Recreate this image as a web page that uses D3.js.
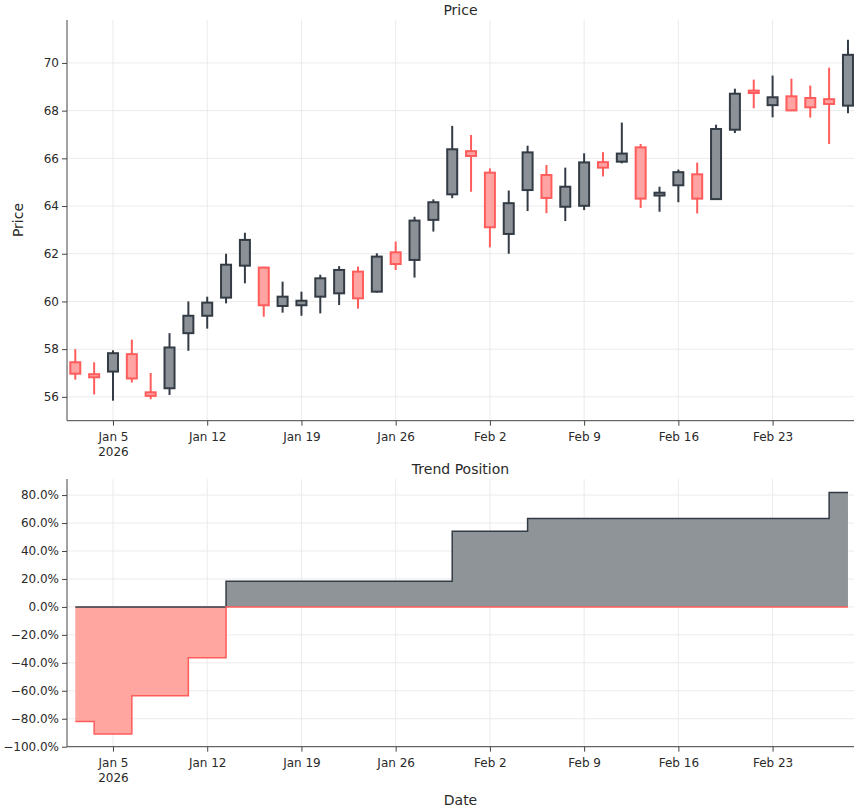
<!DOCTYPE html>
<html>
<head>
<meta charset="utf-8">
<script src="https://cdn.jsdelivr.net/npm/d3@7"></script>
<style>
  body { margin: 0; background: #fff; }
  svg { display: block; font-family: "DejaVu Sans", Verdana, sans-serif; }
  .tick text { fill: #2a2a2a; }
  .tick line { stroke: #444; }
  .domain { stroke: #444; }
</style>
</head>
<body>
<svg id="chart" width="854" height="809"></svg>
<script>
// trading days, Jan 1 - Feb 27 2026 (weekends removed)
const dates = ["2026-01-01","2026-01-02","2026-01-05","2026-01-06","2026-01-07","2026-01-08","2026-01-09",
  "2026-01-12","2026-01-13","2026-01-14","2026-01-15","2026-01-16","2026-01-19","2026-01-20","2026-01-21",
  "2026-01-22","2026-01-23","2026-01-26","2026-01-27","2026-01-28","2026-01-29","2026-01-30","2026-02-02",
  "2026-02-03","2026-02-04","2026-02-05","2026-02-06","2026-02-09","2026-02-10","2026-02-11","2026-02-12",
  "2026-02-13","2026-02-16","2026-02-17","2026-02-18","2026-02-19","2026-02-20","2026-02-23","2026-02-24",
  "2026-02-25","2026-02-26","2026-02-27"];
const open  = [57.45,56.95,57.06,57.79,56.19,56.36,58.67,59.40,60.16,61.50,61.42,59.81,59.84,60.20,60.34,
  61.25,60.41,62.06,61.74,63.42,64.49,66.30,65.40,62.83,64.67,65.30,63.97,64.01,65.84,65.86,66.46,
  64.44,64.87,65.33,64.29,67.20,68.84,68.23,68.60,68.53,68.48,68.21];
const high  = [58.00,57.45,57.95,58.40,57.00,58.67,60.00,60.20,62.00,62.88,61.45,60.83,60.41,61.12,61.48,
  61.46,62.02,62.51,63.55,64.28,67.36,66.98,65.58,64.65,66.53,65.72,65.61,66.21,66.26,67.50,66.60,
  64.81,65.53,65.82,67.41,68.92,69.30,69.47,69.34,69.05,69.80,70.97];
const low   = [56.72,56.10,55.84,56.60,55.90,56.08,57.93,58.86,59.92,60.76,59.36,59.53,59.40,59.50,59.85,
  59.70,60.37,61.32,61.00,62.93,64.33,64.60,62.27,62.00,63.79,63.70,63.37,63.83,65.24,65.79,63.92,
  63.76,64.16,63.69,64.27,67.06,68.10,67.72,67.98,67.71,66.60,67.89];
const close = [56.97,56.82,57.83,56.77,56.04,58.07,59.40,59.95,61.54,62.58,59.84,60.20,60.03,60.97,61.32,
  60.13,61.88,61.57,63.39,64.16,66.38,66.10,63.11,64.12,66.25,64.34,64.81,65.83,65.61,66.20,64.31,
  64.56,65.42,64.31,67.23,68.71,68.74,68.56,68.01,68.14,68.28,70.34];
const position = [-0.82,-0.91,-0.91,-0.635,-0.635,-0.635,-0.363,-0.363,0.184,0.184,0.184,0.184,0.184,0.184,
  0.184,0.184,0.184,0.184,0.184,0.184,0.542,0.542,0.542,0.542,0.633,0.633,0.633,0.633,0.633,0.633,
  0.633,0.633,0.633,0.633,0.633,0.633,0.633,0.633,0.633,0.633,0.819,0.819];
const priceTicks = [56, 58, 60, 62, 64, 66, 68, 70];
const posTicks = [-1, -0.8, -0.6, -0.4, -0.2, 0, 0.2, 0.4, 0.6, 0.8];

const upLine = "#333b44", upFill = "#8c9197";
const downLine = "#ff5c5c", downFill = "#ffa3a3";
const textColor = "#2a2a2a";
const font = "DejaVu Sans, Verdana, sans-serif";

const parse = d3.timeParse("%Y-%m-%d");
const days = dates.map(parse);
const candles = days.map((d, i) => ({i: i, date: d, o: open[i], h: high[i], l: low[i], c: close[i]}));

const svg = d3.select("#chart");
const left = 67, right = 854;

// x is the trading-day index, so weekends take no space
const x = d3.scaleLinear().domain([-0.44, dates.length - 0.68]).range([left, right]);
const mondays = days.map((d, i) => d.getDay() == 1 ? i : -1).filter(i => i >= 0);
const fmt = d3.timeFormat("%b %-d");

const yP = d3.scaleLinear().domain([55.0, 71.8]).range([420.7, 20]);
const yT = d3.scaleLinear().domain([-1.0, 0.915]).range([746.7, 479]);

function grid(y, ticks, top, bottom) {
  const g = svg.append("g").attr("stroke", "#ebebeb").attr("stroke-width", 1);
  g.selectAll(".v").data(mondays).enter().append("line")
    .attr("x1", d => x(d)).attr("x2", d => x(d))
    .attr("y1", top).attr("y2", bottom);
  g.selectAll(".h").data(ticks).enter().append("line")
    .attr("x1", left).attr("x2", right)
    .attr("y1", d => y(d)).attr("y2", d => y(d));
}

function styleAxis(g) {
  g.attr("font-family", font).attr("font-size", 12);
  return g;
}

function xAxis(yPos) {
  const g = svg.append("g")
    .attr("transform", "translate(0," + yPos + ")")
    .call(d3.axisBottom(x).tickValues(mondays).tickSize(5).tickSizeOuter(0).tickFormat(i => fmt(days[i])));
  styleAxis(g);
  g.selectAll(".tick text").attr("dy", "1.05em")
    .filter((d, k) => k == 0)
    .append("tspan").attr("x", 0).attr("dy", "1.25em").text(d => days[d].getFullYear());
  return g;
}

// ---- price panel ----
grid(yP, priceTicks, 20, 420.7);

const bw = 10;
const cg = svg.append("g");
cg.selectAll(".wick").data(candles).enter().append("line")
  .attr("x1", d => x(d.i)).attr("x2", d => x(d.i))
  .attr("y1", d => yP(d.h)).attr("y2", d => yP(d.l))
  .attr("stroke", d => d.c >= d.o ? upLine : downLine)
  .attr("stroke-width", 2);
cg.selectAll(".body").data(candles).enter().append("rect")
  .attr("x", d => x(d.i) - bw / 2)
  .attr("width", bw)
  .attr("y", d => yP(Math.max(d.o, d.c)))
  .attr("height", d => Math.max(1, yP(Math.min(d.o, d.c)) - yP(Math.max(d.o, d.c))))
  .attr("fill", d => d.c >= d.o ? upFill : downFill)
  .attr("stroke", d => d.c >= d.o ? upLine : downLine)
  .attr("stroke-width", 2);

styleAxis(svg.append("g").attr("transform", "translate(" + left + ",0)")
  .call(d3.axisLeft(yP).tickValues(priceTicks).tickSize(5).tickSizeOuter(0)))
  .select(".domain").attr("d", "M0,20V420.7");
xAxis(420.7).select(".domain").attr("d", "M" + left + ",0H" + right);

// ---- trend position panel ----
grid(yT, posTicks, 479, 746.7);

const pos = position.map((v, i) => ({i: i, up: Math.max(v, 0), dn: Math.min(v, 0)}));
const areaUp = d3.area().curve(d3.curveStepAfter).x(d => x(d.i)).y0(yT(0)).y1(d => yT(d.up));
const areaDn = d3.area().curve(d3.curveStepAfter).x(d => x(d.i)).y0(yT(0)).y1(d => yT(d.dn));
const lineUp = d3.line().curve(d3.curveStepAfter).x(d => x(d.i)).y(d => yT(d.up));
const lineDn = d3.line().curve(d3.curveStepAfter).x(d => x(d.i)).y(d => yT(d.dn));

svg.append("path").datum(pos).attr("d", areaUp).attr("fill", "#8f9499");
svg.append("path").datum(pos).attr("d", areaDn).attr("fill", "#ffa6a1");
svg.append("path").datum(pos).attr("d", lineUp).attr("fill", "none").attr("stroke", upLine).attr("stroke-width", 1.5);
svg.append("path").datum(pos).attr("d", lineDn).attr("fill", "none").attr("stroke", downLine).attr("stroke-width", 1.5);

styleAxis(svg.append("g").attr("transform", "translate(" + left + ",0)")
  .call(d3.axisLeft(yT).tickValues(posTicks).tickSize(5).tickSizeOuter(0).tickFormat(d3.format(".1%"))))
  .select(".domain").attr("d", "M0,479V746.7");
xAxis(746.7).select(".domain").attr("d", "M" + left + ",0H" + right);

// ---- titles ----
const mid = (left + right) / 2;
svg.append("text").attr("x", mid).attr("y", 15).attr("text-anchor", "middle")
  .attr("font-size", 14).attr("fill", textColor).text("Price");
svg.append("text").attr("x", mid).attr("y", 474).attr("text-anchor", "middle")
  .attr("font-size", 14).attr("fill", textColor).text("Trend Position");
svg.append("text").attr("x", mid).attr("y", 805).attr("text-anchor", "middle")
  .attr("font-size", 14).attr("fill", textColor).text("Date");
svg.append("text").attr("transform", "translate(23,220) rotate(-90)").attr("text-anchor", "middle")
  .attr("font-size", 14).attr("fill", textColor).text("Price");
</script>
</body>
</html>
